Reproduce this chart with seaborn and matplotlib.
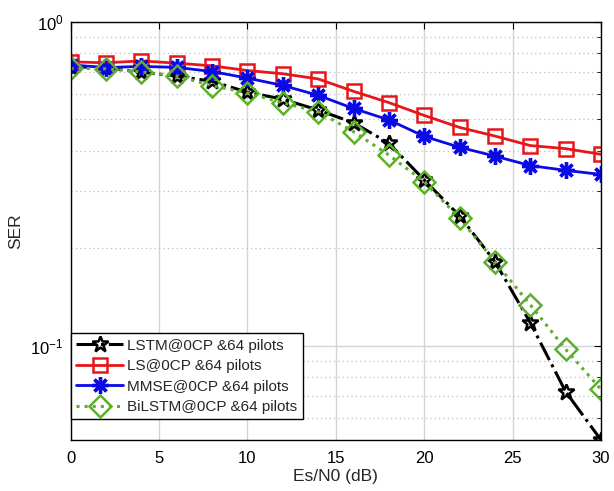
import matplotlib
matplotlib.use("Agg")
import matplotlib.pyplot as plt
from matplotlib.ticker import LogLocator, NullFormatter, FixedLocator, NullLocator
import pandas as pd
import seaborn as sns

# Symbol error rate versus Es/N0 for four channel estimators
snr_db = [0, 2, 4, 6, 8, 10, 12, 14, 16, 18, 20, 22, 24, 26, 28, 30]
lstm_ser = [0.727, 0.722, 0.698, 0.680, 0.655, 0.606, 0.577, 0.534, 0.488, 0.422,
            0.325, 0.252, 0.182, 0.118, 0.0723, 0.0513]
ls_ser = [0.752, 0.747, 0.757, 0.745, 0.731, 0.707, 0.691, 0.666, 0.610, 0.563,
          0.514, 0.472, 0.444, 0.415, 0.406, 0.390]
mmse_ser = [0.736, 0.722, 0.728, 0.723, 0.702, 0.670, 0.636, 0.593, 0.540, 0.498,
            0.443, 0.410, 0.385, 0.360, 0.348, 0.338]
bilstm_ser = [0.718, 0.716, 0.700, 0.680, 0.635, 0.603, 0.562, 0.528, 0.458, 0.388,
              0.321, 0.248, 0.182, 0.134, 0.0977, 0.0735]
series_labels = ["LSTM@0CP &64 pilots", "LS@0CP &64 pilots",
                 "MMSE@0CP &64 pilots", "BiLSTM@0CP &64 pilots"]
x_ticks = [0, 5, 10, 15, 20, 25, 30]

sns.set_style("white")
plt.rcParams["font.family"] = ["Liberation Sans", "DejaVu Sans"]
plt.rcParams["mathtext.fontset"] = "custom"
plt.rcParams["mathtext.rm"] = "Liberation Sans"
plt.rcParams["mathtext.it"] = "Liberation Sans:italic"

frame = pd.DataFrame({
    "snr": snr_db * 4,
    "ser": lstm_ser + ls_ser + mmse_ser + bilstm_ser,
    "method": [lab for lab in series_labels for _ in snr_db],
})

green = "#5cb02c"
styles = {
    series_labels[0]: dict(color="black", linestyle="-.", linewidth=2.2, marker="*",
                           markersize=12, markerfacecolor="none",
                           markeredgecolor="black", markeredgewidth=1.8),
    series_labels[1]: dict(color="#e8161b", linestyle="-", linewidth=2.0, marker="s",
                           markersize=9.5, markerfacecolor="none",
                           markeredgecolor="#e8161b", markeredgewidth=1.8),
    series_labels[2]: dict(color="#0a0ae6", linestyle="-", linewidth=2.0, marker=(8, 2, 0),
                           markersize=12, markerfacecolor="none",
                           markeredgecolor="#0a0ae6", markeredgewidth=2.4),
    series_labels[3]: dict(color=green, linestyle=":", linewidth=2.2, marker="D",
                           markersize=11, markerfacecolor="none",
                           markeredgecolor=green, markeredgewidth=1.8),
}

fig = plt.figure(figsize=(6.14, 4.91), dpi=100)
ax = fig.add_axes([0.1151, 0.1039, 0.8637, 0.8519])

for name in series_labels:
    sub = frame[frame["method"] == name]
    sns.lineplot(data=sub, x="snr", y="ser", ax=ax, label=name, **styles[name])

ax.set_yscale("log")
ax.set_xlim(0, 30)
ax.set_ylim(min(lstm_ser), 1.0)

ax.xaxis.set_major_locator(FixedLocator(x_ticks))
ax.xaxis.set_minor_locator(NullLocator())
ax.yaxis.set_major_locator(LogLocator(base=10))
ax.yaxis.set_minor_locator(LogLocator(base=10, subs=range(2, 10)))
ax.yaxis.set_minor_formatter(NullFormatter())

ax.set_axisbelow(True)
ax.grid(which="major", color="#d4d4d4", linewidth=1.0, linestyle="-")
ax.grid(which="minor", axis="y", color="#bdbdbd", linewidth=0.9, linestyle=(0, (1, 2.5)))

for sp in ax.spines.values():
    sp.set_color("black")
    sp.set_linewidth(1.0)

ax.tick_params(which="both", direction="in", top=True, right=True, colors="black",
               labelsize=12)
ax.tick_params(which="major", length=5, width=0.8)
ax.tick_params(which="minor", length=3, width=0.6)
ax.tick_params(axis="x", pad=8)
ax.tick_params(axis="y", pad=5)

ax.set_xlabel("Es/N0 (dB)", fontsize=12.5, labelpad=2)
ax.set_ylabel("SER", fontsize=12.5, labelpad=5)

leg = ax.legend(loc="lower left", bbox_to_anchor=(0.0, 0.0495), borderaxespad=0,
                fontsize=11, frameon=True, fancybox=False, framealpha=1,
                edgecolor="black", handlelength=3.1, handletextpad=0.25,
                labelspacing=0.42, borderpad=0.35)
leg.get_frame().set_linewidth(1.0)

fig.savefig("out.png", dpi=100)
